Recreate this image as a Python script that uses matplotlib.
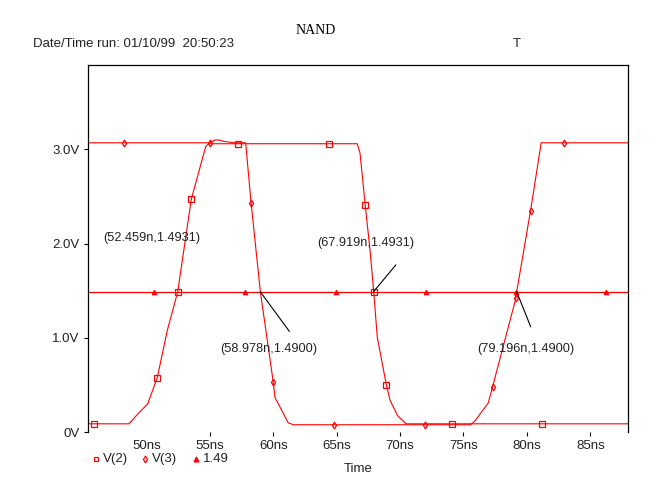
import numpy as np
import matplotlib
matplotlib.use('Agg')
import matplotlib.pyplot as plt
from matplotlib.lines import Line2D

# trace V(2) (ns, V)
v2_t = [45.39, 48.62, 49.35, 50.09, 50.85, 51.64, 52.46, 53.53, 54.67, 54.9,
        66.62, 66.84, 67.25, 67.63, 67.92, 68.20, 68.92, 69.21, 69.79, 70.47, 88.0]
v2_v = [0.09, 0.09, 0.20, 0.30, 0.58, 1.08, 1.49, 2.47, 3.03, 3.06,
        3.06, 2.96, 2.41, 1.93, 1.49, 1.01, 0.50, 0.34, 0.18, 0.09, 0.09]
v2_mk_t = [45.88, 50.85, 52.46, 53.53, 57.23, 64.41, 67.25, 67.92, 68.92, 74.06, 81.21]
v2_mk_v = [0.09, 0.58, 1.49, 2.47, 3.06, 3.06, 2.41, 1.49, 0.50, 0.09, 0.09]

# trace V(3)
v3_t = [45.39, 55.0, 55.4, 55.7, 56.1, 56.9, 57.82, 58.25, 58.98, 60.0, 60.13,
        61.18, 61.6, 75.56, 75.9, 76.95, 77.29, 79.13, 79.196, 80.29, 81.13, 88.0]
v3_v = [3.07, 3.07, 3.10, 3.10, 3.085, 3.07, 3.07, 2.43, 1.49, 0.53, 0.37,
        0.10, 0.08, 0.08, 0.12, 0.31, 0.48, 1.42, 1.49, 2.35, 3.07, 3.07]
v3_mk_t = [48.22, 55.0, 58.25, 60.0, 64.8, 71.96, 77.29, 79.13, 80.29, 82.95]
v3_mk_v = [3.07, 3.07, 2.43, 0.53, 0.08, 0.08, 0.48, 1.42, 2.35, 3.07]

# reference level 1.49
ref_level = 1.49
ref_mk_t = [50.59, 57.77, 64.92, 72.04, 79.16, 86.28]

# cursor readouts
cursor_t = [52.459, 58.978, 67.919, 79.196]
cursor_v = [1.4931, 1.4900, 1.4931, 1.4900]
label_xy = [(50.40, 2.057), (59.66, 0.880), (67.31, 2.004), (79.92, 0.883)]
leader_off = [None, (20.9, -28.5), (16.0, 19.2), (10.1, -25.2)]

xticks = [50, 55, 60, 65, 70, 75, 80, 85]
yticks = [0, 1, 2, 3]
yticklabels = ['0V', '1.0V', '2.0V', '3.0V']

red = '#ff0000'
txt = '#222222'
fs = 9.5
plt.rcParams['font.family'] = ['Liberation Sans', 'DejaVu Sans']

top_px = 65
fig = plt.figure(figsize=(6.66, 5.01), dpi=100)
ax = fig.add_axes([88/666, 1-432.3/501, 540.3/666, (432.3-top_px)/501])

ax.plot(v2_t, v2_v, color=red, lw=0.8)
ax.plot(v3_t, v3_v, color=red, lw=0.8)
ax.axhline(ref_level, color=red, lw=0.9)

ax.plot(v2_mk_t, v2_mk_v, ls='none', marker='s', ms=4, mfc='none', mec=red, mew=0.9)
ax.plot(v3_mk_t, v3_mk_v, ls='none', marker='d', ms=3.5, mfc='none', mec=red, mew=0.9)
ax.plot(ref_mk_t, [ref_level]*len(ref_mk_t), ls='none', marker='^', ms=3.5,
        mfc=red, mec=red, mew=0.6)

for t, v, (lx, ly), off in zip(cursor_t, cursor_v, label_xy, leader_off):
    if off is not None:
        ax.annotate('', xy=(t, v), xytext=off, textcoords='offset points',
                    arrowprops=dict(arrowstyle='-', color='black', lw=0.8,
                                    shrinkA=0, shrinkB=0))
    ax.text(lx, ly, '(%.3fn,%.4f)' % (t, v), ha='center', va='center',
            fontsize=9.2, color=txt)

ax.set_xlim(45.385, 88.0)
ax.set_ylim(0, (432.3-top_px)/94.3)

ax.set_xticks(xticks)
ax.set_xticklabels(['%dns' % x for x in xticks])
ax.xaxis.get_major_ticks()[0].tick1line.set_visible(False)
ax.set_yticks(yticks)
ax.set_yticklabels(yticklabels)
ax.tick_params(axis='both', direction='out', length=3, width=0.8,
               labelsize=fs, colors='black', labelcolor=txt)
ax.tick_params(axis='x', pad=2.5)
ax.tick_params(axis='y', pad=3)

for s in ['left', 'right', 'top']:
    ax.spines[s].set_linewidth(0.9)
ax.spines['bottom'].set_visible(False)

# title block
fig.text(316/666, 1-30/501, 'NAND', ha='center', va='center',
         family='Liberation Serif', fontsize=10)
fig.text(33/666, 1-44/501, 'Date/Time run: 01/10/99  20:50:23', ha='left',
         va='center', fontsize=fs, color=txt)
fig.text(517/666, 1-44/501, 'T', ha='center', va='center', fontsize=fs, color=txt)
fig.text(358/666, 1-469/501, 'Time', ha='center', va='center', fontsize=fs, color=txt)

# legend
leg = [('s', 'none', 'V(2)', 96), ('d', 'none', 'V(3)', 145), ('^', red, '1.49', 196)]
for m, fc, lab, px in leg:
    fig.add_artist(Line2D([px/666], [1-459/501], transform=fig.transFigure,
                          marker=m, ms=3.5, mfc=fc, mec=red, mew=0.9, ls='none'))
    fig.text((px+7)/666, 1-459/501, lab, ha='left', va='center',
             fontsize=fs, color=txt)

fig.savefig('out.png', dpi=100)
